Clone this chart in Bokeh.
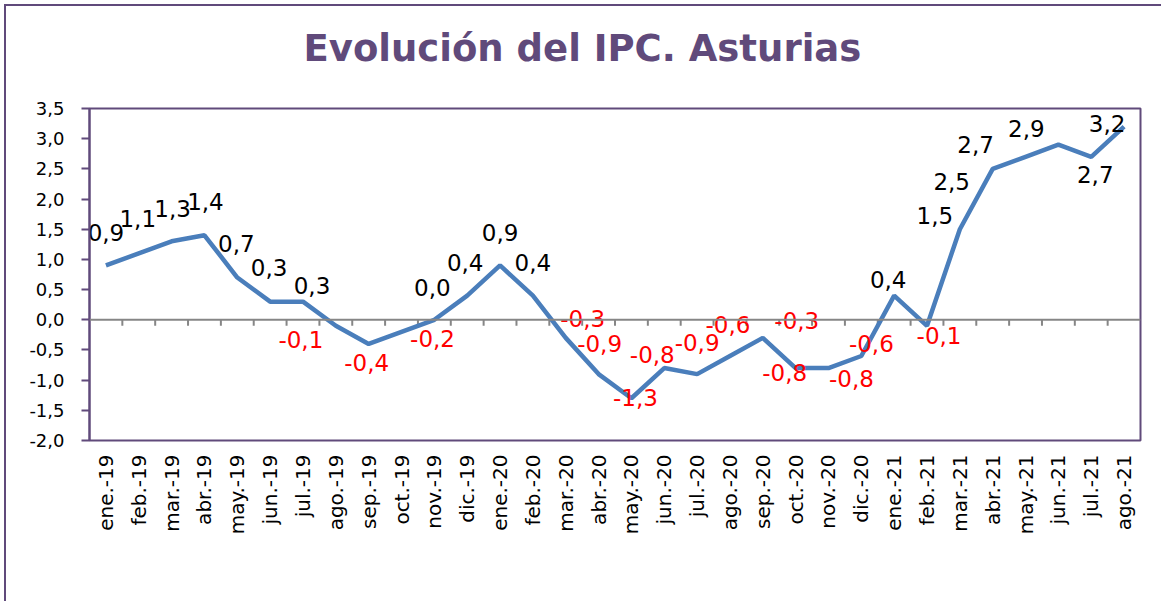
import math
from bokeh.plotting import figure
from bokeh.models import ColumnDataSource, Range1d, FixedTicker, CustomJSTickFormatter, Span, Title
from bokeh.embed import file_html
from bokeh.resources import INLINE
from bokeh.core.properties import value

# ---- data ----
title_text = "Evolución del IPC. Asturias"
months = ["ene.-19", "feb.-19", "mar.-19", "abr.-19", "may.-19", "jun.-19", "jul.-19", "ago.-19",
          "sep.-19", "oct.-19", "nov.-19", "dic.-19", "ene.-20", "feb.-20", "mar.-20", "abr.-20",
          "may.-20", "jun.-20", "jul.-20", "ago.-20", "sep.-20", "oct.-20", "nov.-20", "dic.-20",
          "ene.-21", "feb.-21", "mar.-21", "abr.-21", "may.-21", "jun.-21", "jul.-21", "ago.-21"]
ipc = [0.9, 1.1, 1.3, 1.4, 0.7, 0.3, 0.3, -0.1, -0.4, -0.2, 0.0, 0.4,
       0.9, 0.4, -0.3, -0.9, -1.3, -0.8, -0.9, -0.6, -0.3, -0.8, -0.8, -0.6,
       0.4, -0.1, 1.5, 2.5, 2.7, 2.9, 2.7, 3.2]
y_ticks = [-2.0, -1.5, -1.0, -0.5, 0.0, 0.5, 1.0, 1.5, 2.0, 2.5, 3.0, 3.5]

# ---- label placement (screen px offsets from each point) ----
label_dx = [0, -1, 1, 1, -1, -1, 9, -35, -2, 31, -2, -2,
            0, 0, 17, 1, 4, -12, 0, -2, 34, -11, 23, 10,
            -6, 12, -25, -41, -50, -32, 4, -17]
label_dy = [-33, -35, -33, -34, -34, -34, -16, 14, 19, 7, -32, -33,
            -33, -33, -19, -31, -1, -14, -32, -31, -17, 4, 10, -12,
            -16, 10, -14, 13, -12, -16, 18, -3]

PURPLE = "#604A7B"
FONT = "DejaVu Sans"

idx = list(range(len(months)))
src = ColumnDataSource(dict(
    x=idx, y=ipc,
    label=[f"{v:.1f}".replace(".", ",") for v in ipc],
    color=["#FF0000" if v < 0 else "#000000" for v in ipc],
    dx=label_dx, dy=label_dy,
))

p = figure(
    output_backend="svg", toolbar_location=None,
    frame_width=1051, frame_height=332,
    min_border_left=83, min_border_right=21, min_border_top=102, min_border_bottom=161,
    x_range=Range1d(-0.5, len(months) - 0.5), y_range=Range1d(y_ticks[0], y_ticks[-1]),
    background_fill_color="white", border_fill_color="white",
)
p.styles = {
    "margin-left": "4px", "margin-top": "4px",
    "border-left": f"2px solid {PURPLE}", "border-top": f"2px solid {PURPLE}",
}

# real title (outer slot)
p.title.text = title_text
p.title.align = "left"
p.title.offset = 214
p.title.standoff = 0
p.title.text_font = FONT
p.title.text_font_size = "37px"
p.title.text_font_style = "bold"
p.title.text_color = PURPLE

# spacer between title and frame
p.add_layout(Title(text=" ", text_font_size="33px", standoff=0), "above")

p.outline_line_color = PURPLE
p.outline_line_width = 2
p.xgrid.grid_line_color = None
p.ygrid.grid_line_color = None

# y axis
p.yaxis.ticker = FixedTicker(ticks=y_ticks)
p.yaxis.formatter = CustomJSTickFormatter(code="return tick.toFixed(1).replace('.', ',');")
p.yaxis.axis_line_color = PURPLE
p.yaxis.axis_line_width = 2
p.yaxis.major_tick_line_color = PURPLE
p.yaxis.major_tick_line_width = 2
p.yaxis.major_tick_out = 8
p.yaxis.major_tick_in = 0
p.yaxis.minor_tick_line_color = None
p.yaxis.major_label_text_font = FONT
p.yaxis.major_label_text_font_size = "18px"
p.yaxis.major_label_text_color = "black"
p.yaxis.major_label_standoff = 17

# x axis
p.xaxis.ticker = FixedTicker(ticks=idx)
p.xaxis.major_label_overrides = {i: m for i, m in zip(idx, months)}
p.xaxis.axis_line_color = None
p.xaxis.major_tick_line_color = None
p.xaxis.major_tick_out = 0
p.xaxis.major_tick_in = 0
p.xaxis.minor_tick_line_color = None
p.xaxis.major_label_orientation = math.pi / 2
p.xaxis.major_label_text_font = FONT
p.xaxis.major_label_text_font_size = "20px"
p.xaxis.major_label_text_color = "black"
p.xaxis.major_label_standoff = 14

# zero line with tick marks between categories
p.add_layout(Span(location=0, dimension="width", line_color="#868686", line_width=2))
p.ray(x=[i + 0.5 for i in idx[:-1]], y=[0] * (len(idx) - 1), length=6, length_units="screen",
      angle=-math.pi / 2, line_color="#868686", line_width=2)

# series
p.line(x="x", y="y", source=src, line_color="#4A7EBB", line_width=4.5)
p.text(x="x", y="y", text="label", source=src, x_offset="dx", y_offset="dy",
       text_color="color", text_font=value(FONT), text_font_size="23px",
       text_align="center", text_baseline="middle")

open("out.html", "w").write(file_html(p, INLINE))
